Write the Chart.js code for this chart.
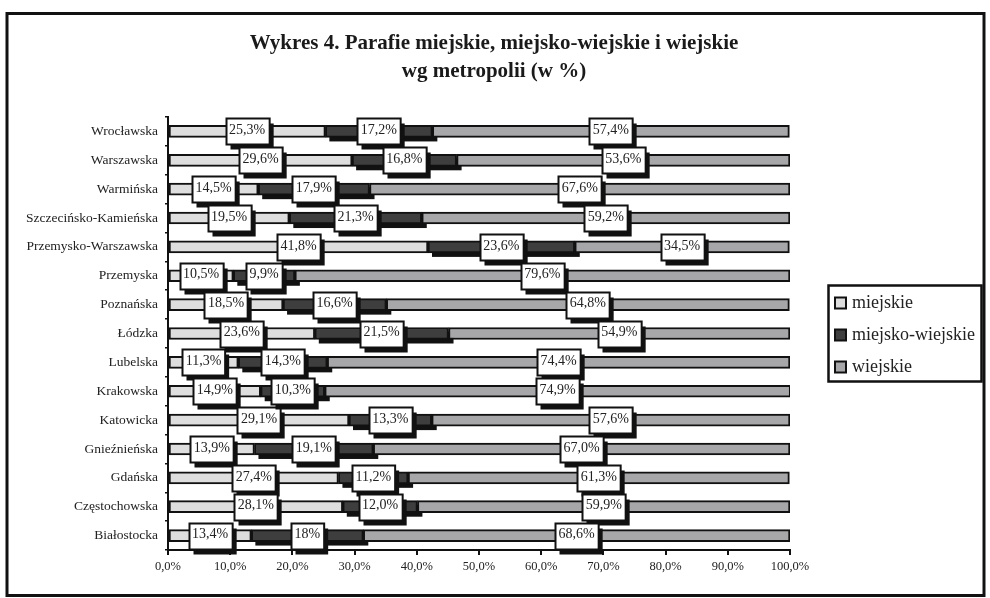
<!DOCTYPE html>
<html>
<head>
<meta charset="utf-8">
<script src="https://cdn.jsdelivr.net/npm/chart.js@4/dist/chart.umd.min.js"></script>
<style>
  html, body { margin: 0; padding: 0; background: #fff; }
  #wrap { width: 990px; height: 598px; position: relative; }
</style>
</head>
<body>
<div id="wrap"><canvas id="chart" width="990" height="598"></canvas></div>
<script>
const metropolie = [
  "Wrocławska", "Warszawska", "Warmińska", "Szczecińsko-Kamieńska",
  "Przemysko-Warszawska", "Przemyska", "Poznańska", "Łódzka", "Lubelska",
  "Krakowska", "Katowicka", "Gnieźnieńska", "Gdańska", "Częstochowska", "Białostocka"
];

// values kept as written on the chart (labels reuse them)
const miejskie = ["25.3", "29.6", "14.5", "19.5", "41.8", "10.5", "18.5", "23.6", "11.3", "14.9", "29.1", "13.9", "27.4", "28.1", "13.4"];
const miejskoWiejskie = ["17.2", "16.8", "17.9", "21.3", "23.6", "9.9", "16.6", "21.5", "14.3", "10.3", "13.3", "19.1", "11.2", "12.0", "18"];
const wiejskie = ["57.4", "53.6", "67.6", "59.2", "34.5", "79.6", "64.8", "54.9", "74.4", "74.9", "57.6", "67.0", "61.3", "59.9", "68.6"];

const xTicks = [0, 10, 20, 30, 40, 50, 60, 70, 80, 90, 100];

const serif = "'Liberation Serif', 'Times New Roman', serif";

// black frame round the whole figure
const framePlugin = {
  id: "frame",
  beforeDraw(chart) {
    const c = chart.ctx;
    c.save();
    c.strokeStyle = "#111";
    c.lineWidth = 3;
    c.strokeRect(7, 13.5, 977, 582);
    c.restore();
  }
};

// dark shadow under the middle segment
const barShadow = {
  id: "barShadow",
  beforeDatasetsDraw(chart) {
    const c = chart.ctx;
    const meta = chart.getDatasetMeta(1);
    c.save();
    c.fillStyle = "#111";
    meta.data.forEach(bar => {
      const left = Math.min(bar.base, bar.x);
      const w = Math.abs(bar.x - bar.base);
      c.fillRect(left + 4, bar.y - bar.height / 2 + 4, w + 1, bar.height);
    });
    c.restore();
  }
};

// white value boxes with a drop shadow
const valueBoxes = {
  id: "valueBoxes",
  afterDatasetsDraw(chart) {
    const c = chart.ctx;
    c.save();
    c.font = "14px " + serif;
    c.textAlign = "center";
    c.textBaseline = "middle";
    chart.data.datasets.forEach((ds, di) => {
      chart.getDatasetMeta(di).data.forEach((bar, i) => {
        const txt = ds.data[i].replace(".", ",") + "%";
        const cx = (bar.x + bar.base) / 2;
        const w = c.measureText(txt).width + 7;
        const h = 26;
        const x = Math.round(cx - w / 2) + 0.5;
        const y = Math.round(bar.y - h / 2) + 0.5;
        c.fillStyle = "#111";
        c.fillRect(x + 4, y + 5, w, h);
        c.fillStyle = "#fff";
        c.fillRect(x, y, w, h);
        c.strokeStyle = "#111";
        c.lineWidth = 2;
        c.strokeRect(x, y, w, h);
        c.fillStyle = "#222";
        c.fillText(txt, cx, bar.y - 1);
      });
    });
    c.restore();
  }
};

// boxed legend on the right
const boxLegend = {
  id: "boxLegend",
  afterDraw(chart) {
    const c = chart.ctx;
    c.save();
    c.strokeStyle = "#111";
    c.lineWidth = 2.5;
    c.strokeRect(828.5, 285.5, 153, 96);
    c.font = "18px " + serif;
    c.textBaseline = "middle";
    chart.data.datasets.forEach((ds, i) => {
      const y = 303 + i * 32;
      c.fillStyle = ds.backgroundColor;
      c.fillRect(835, y - 5.5, 11, 11);
      c.lineWidth = 2;
      c.strokeRect(835, y - 5.5, 11, 11);
      c.fillStyle = "#222";
      c.fillText(ds.label, 852, y);
    });
    c.restore();
  }
};

new Chart(document.getElementById("chart"), {
  type: "bar",
  data: {
    labels: metropolie,
    datasets: [
      { label: "miejskie", data: miejskie, backgroundColor: "#dedede" },
      { label: "miejsko-wiejskie", data: miejskoWiejskie, backgroundColor: "#3e3e3e" },
      { label: "wiejskie", data: wiejskie, backgroundColor: "#a7a7aa" }
    ].map(ds => Object.assign(ds, {
      borderColor: "#111",
      borderWidth: 2,
      borderSkipped: false,
      barThickness: 12
    }))
  },
  options: {
    indexAxis: "y",
    responsive: false,
    animation: false,
    layout: { padding: { left: 0, right: 2, top: 0, bottom: 0 } },
    plugins: {
      legend: { display: false },
      tooltip: { enabled: false },
      title: {
        display: true,
        text: ["Wykres 4. Parafie miejskie, miejsko-wiejskie i wiejskie", "wg metropolii (w %)"],
        color: "#1a1a1a",
        font: { family: serif, size: 21, weight: "bold", lineHeight: 1.3334 },
        padding: { top: 30, bottom: 31 }
      }
    },
    scales: {
      x: {
        stacked: true,
        min: 0,
        max: 100,
        afterBuildTicks(scale) { scale.ticks = xTicks.map(v => ({ value: v })); },
        afterFit(scale) { scale.height = 48; },
        border: { color: "#111", width: 2 },
        grid: { drawOnChartArea: false, color: "#111", lineWidth: 2, tickLength: 5 },
        ticks: {
          color: "#222",
          padding: 4,
          font: { family: serif, size: 12.5 },
          callback: v => v.toFixed(1).replace(".", ",") + "%"
        }
      },
      y: {
        stacked: true,
        afterFit(scale) { scale.width = 168; },
        border: { color: "#111", width: 2 },
        grid: { drawOnChartArea: false, offset: true, color: "#111", lineWidth: 1.5, tickLength: 3 },
        ticks: { color: "#222", padding: 7, font: { family: serif, size: 13.5 } }
      },
      // empty axis that keeps the room for the legend on the right
      legendRoom: {
        type: "category",
        position: "right",
        afterFit(scale) { scale.width = 198; },
        border: { display: false },
        grid: { display: false },
        ticks: { display: false }
      }
    }
  },
  plugins: [framePlugin, barShadow, valueBoxes, boxLegend]
});
</script>
</body>
</html>
